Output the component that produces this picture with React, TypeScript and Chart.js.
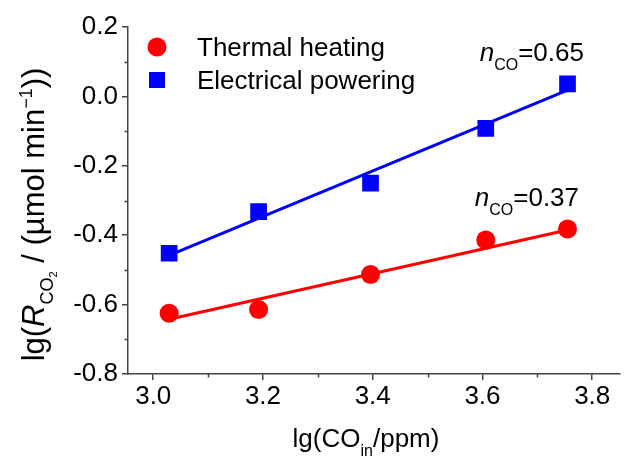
import React, { useEffect, useRef } from "react";
import { Chart, registerables } from "chart.js";
Chart.register(...registerables);

// ---- data ----
const seriesLabels = ["Thermal heating", "Electrical powering"];
const xThermal = [3.029, 3.192, 3.396, 3.606, 3.755];
const yThermal = [-0.625, -0.614, -0.513, -0.414, -0.382];
const xElectrical = [3.029, 3.192, 3.396, 3.606, 3.755];
const yElectrical = [-0.452, -0.332, -0.25, -0.092, 0.036];
const fitThermalX = [3.029, 3.755];
const fitThermalY = [-0.642, -0.385];
const fitElectricalX = [3.029, 3.755];
const fitElectricalY = [-0.458, 0.018];
const slopeLabels = ["0.37", "0.65"];
const xTicks = [3.0, 3.2, 3.4, 3.6, 3.8];
const yTicks = [-0.8, -0.6, -0.4, -0.2, 0.0, 0.2];
const xMinorTicks = [3.1, 3.3, 3.5, 3.7];
const yMinorTicks = [-0.7, -0.5, -0.3, -0.1, 0.1];

const FONT = 'Arial, "Liberation Sans", "Helvetica", sans-serif';
const AXIS = "#444444";
const RED = "#ff0000";
const BLUE = "#0000ff";

type Part = { text: string; size: number; italic?: boolean; dy?: number };

function partsWidth(ctx: CanvasRenderingContext2D, parts: Part[]) {
  let w = 0;
  for (const p of parts) {
    ctx.font = `${p.italic ? "italic " : ""}${p.size}px ${FONT}`;
    w += ctx.measureText(p.text).width;
  }
  return w;
}

function drawParts(ctx: CanvasRenderingContext2D, parts: Part[], x: number, y: number) {
  let cx = x;
  ctx.textBaseline = "alphabetic";
  ctx.textAlign = "left";
  for (const p of parts) {
    ctx.font = `${p.italic ? "italic " : ""}${p.size}px ${FONT}`;
    ctx.fillText(p.text, cx, y + (p.dy || 0));
    cx += ctx.measureText(p.text).width;
  }
}

const decorPlugin = {
  id: "decor",
  afterDraw(chart: any) {
    const ctx: CanvasRenderingContext2D = chart.ctx;
    const xs = chart.scales.x;
    const ys = chart.scales.y;
    const area = chart.chartArea;
    ctx.save();
    // minor ticks
    ctx.strokeStyle = AXIS;
    ctx.lineWidth = 1.5;
    ctx.beginPath();
    for (const v of xMinorTicks) {
      const px = Math.round(xs.getPixelForValue(v)) + 0.5;
      ctx.moveTo(px, xs.top);
      ctx.lineTo(px, xs.top + 3.5);
    }
    for (const v of yMinorTicks) {
      const py = Math.round(ys.getPixelForValue(v)) + 0.5;
      ctx.moveTo(ys.right - 3.5, py);
      ctx.lineTo(ys.right, py);
    }
    ctx.stroke();

    ctx.fillStyle = "#000";
    // legend
    const ds = chart.data.datasets;
    const lx = area.left + 29;
    const rows = [area.top + 20, area.top + 53];
    [0, 1].forEach((i) => {
      const d = ds[i];
      const cy = rows[i];
      ctx.fillStyle = d.backgroundColor;
      if (d.pointStyle === "circle") {
        ctx.beginPath();
        ctx.arc(lx, cy, 9.5, 0, Math.PI * 2);
        ctx.fill();
      } else {
        ctx.fillRect(lx - 8, cy - 8, 16, 16);
      }
      ctx.fillStyle = "#000";
      ctx.font = `26px ${FONT}`;
      ctx.textBaseline = "alphabetic";
      ctx.textAlign = "left";
      ctx.fillText(d.label, lx + 40, cy + 9);
    });

    // slope annotations
    const ann = [
      { x: 3.586, y: -0.315, label: slopeLabels[0] },
      { x: 3.595, y: 0.103, label: slopeLabels[1] },
    ];
    for (const a of ann) {
      const px = xs.getPixelForValue(a.x);
      const py = ys.getPixelForValue(a.y);
      drawParts(ctx, [
        { text: "n", size: 26, italic: true },
        { text: "CO", size: 16, dy: 9 },
        { text: "=" + a.label, size: 26 },
      ], px, py);
    }

    // x title
    const xParts: Part[] = [
      { text: "lg(CO", size: 26 },
      { text: "in", size: 16, dy: 9 },
      { text: "/ppm)", size: 26 },
    ];
    const xw = partsWidth(ctx, xParts);
    drawParts(ctx, xParts, area.left + 238 - xw / 2, 446.5);

    // y title
    const yParts: Part[] = [
      { text: "lg(", size: 31 },
      { text: "R", size: 31, italic: true },
      { text: "CO", size: 18, dy: 9 },
      { text: "2", size: 11, dy: 13 },
      { text: " / (\u00b5mol min", size: 31 },
      { text: "\u22121", size: 18, dy: -12 },
      { text: "))", size: 31 },
    ];
    const yw = partsWidth(ctx, yParts);
    ctx.save();
    ctx.translate(44, 214.5 + yw / 2);
    ctx.rotate(-Math.PI / 2);
    drawParts(ctx, yParts, 0, 0);
    ctx.restore();

    ctx.restore();
  },
};

function pts(xs: number[], ys: number[]) {
  return xs.map((x, i) => ({ x, y: ys[i] }));
}

export default function App() {
  const ref = useRef<HTMLCanvasElement | null>(null);
  useEffect(() => {
    if (!ref.current) return;
    const chart = new Chart(ref.current, {
      type: "scatter",
      data: {
        datasets: [
          {
            label: seriesLabels[0],
            data: pts(xThermal, yThermal),
            pointStyle: "circle",
            pointRadius: 9.5,
            pointBorderWidth: 0,
            backgroundColor: RED,
            borderColor: RED,
            order: 1,
          },
          {
            label: seriesLabels[1],
            data: pts(xElectrical, yElectrical),
            pointStyle: "rect",
            pointRadius: 11.8,
            pointBorderWidth: 0,
            backgroundColor: BLUE,
            borderColor: BLUE,
            order: 1,
          },
          {
            label: "fit1",
            data: pts(fitThermalX, fitThermalY),
            showLine: true,
            pointRadius: 0,
            borderColor: RED,
            borderWidth: 3,
            order: 2,
          },
          {
            label: "fit2",
            data: pts(fitElectricalX, fitElectricalY),
            showLine: true,
            pointRadius: 0,
            borderColor: BLUE,
            borderWidth: 3,
            order: 2,
          },
        ] as any,
      },
      options: {
        responsive: false,
        maintainAspectRatio: false,
        devicePixelRatio: 1,
        animation: false,
        layout: { padding: { top: 27, right: 0, left: 0, bottom: 0 } },
        plugins: { legend: { display: false }, tooltip: { enabled: false } },
        scales: {
          x: {
            type: "linear",
            min: 2.954,
            max: 3.851,
            afterBuildTicks: (s: any) => {
              s.ticks = xTicks.map((v) => ({ value: v }));
            },
            afterFit: (s: any) => {
              s.height = 85;
            },
            grid: { drawOnChartArea: false, drawTicks: true, tickLength: 6, color: AXIS, lineWidth: 1.5 },
            border: { display: true, color: AXIS, width: 1.5 },
            ticks: {
              font: { family: FONT, size: 26 },
              color: "#000",
              padding: 1,
              maxRotation: 0,
              autoSkip: false,
              callback: (v: any) => Number(v).toFixed(1),
            },
          },
          y: {
            type: "linear",
            min: -0.8,
            max: 0.2,
            afterBuildTicks: (s: any) => {
              s.ticks = yTicks.map((v) => ({ value: v }));
            },
            afterFit: (s: any) => {
              s.width = 128;
            },
            grid: { drawOnChartArea: false, drawTicks: true, tickLength: 6, color: AXIS, lineWidth: 1.5 },
            border: { display: true, color: AXIS, width: 1.5 },
            ticks: {
              font: { family: FONT, size: 26 },
              color: "#000",
              padding: 4,
              autoSkip: false,
              callback: (v: any) => Number(v).toFixed(1),
            },
          },
        },
      } as any,
      plugins: [decorPlugin],
    });
    return () => chart.destroy();
  }, []);
  return (
    <div style={{ position: "absolute", left: 0, top: 0, width: 632, height: 459, background: "#fff" }}>
      <canvas ref={ref} width={632} height={459} style={{ display: "block", width: 632, height: 459 }} />
    </div>
  );
}
